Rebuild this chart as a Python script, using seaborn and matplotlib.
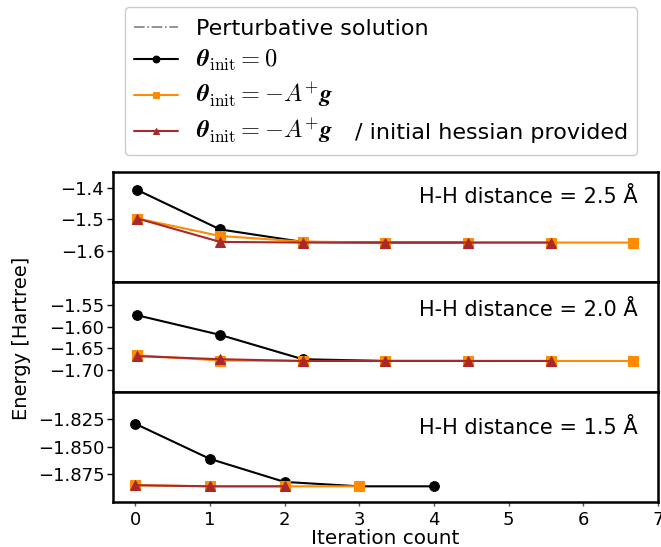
import matplotlib
matplotlib.use("Agg")
import matplotlib.pyplot as plt
import seaborn as sns
import pandas as pd
from matplotlib.offsetbox import TextArea, HPacker

# ---- data ----
distances = ["2.5", "2.0", "1.5"]
# panel 1 (2.5 A)
p1_black = [-1.406, -1.532, -1.572, -1.574, -1.574]
p1_orange = [-1.497, -1.553, -1.571, -1.574, -1.574, -1.574, -1.574]
p1_red = [-1.497, -1.572, -1.574, -1.574, -1.574, -1.574]
# panel 2 (2.0 A)
p2_black = [-1.574, -1.619, -1.675, -1.679, -1.679]
p2_orange = [-1.666, -1.678, -1.679, -1.679, -1.679, -1.679, -1.679]
p2_red = [-1.668, -1.675, -1.679, -1.679, -1.679, -1.679]
# panel 3 (1.5 A)
p3_black = [-1.829, -1.861, -1.882, -1.886, -1.886]
p3_orange = [-1.885, -1.886, -1.886, -1.886]
p3_red = [-1.885, -1.886, -1.886]

ylims = [(-1.70, -1.348), (-1.75, -1.497), (-1.90, -1.80)]
yticks = [[-1.4, -1.5, -1.6], [-1.55, -1.60, -1.65, -1.70], [-1.825, -1.850, -1.875]]
xticks_top = [0, 1, 2, 3, 4, 5, 6]
xticks_bottom = [0, 1, 2, 3, 4, 5, 6, 7]

math_label = r"$\mathbfit{\theta}_{\mathrm{init}} = -A^{+}\mathbfit{g}$"
labels = [
    "Perturbative solution",
    r"$\mathbfit{\theta}_{\mathrm{init}} = 0$",
    math_label,
    math_label,
]
suffix_text = "/ initial hessian provided"

sns.set_style("white")
plt.rcParams["font.family"] = ["DejaVu Sans"]
plt.rcParams["mathtext.fontset"] = "cm"
for k in ["text.color", "axes.labelcolor", "xtick.color", "ytick.color"]:
    plt.rcParams[k] = "black"

BLACK = "black"
ORANGE = "#ff8c00"
RED = "#a8282b"

fig, axes = plt.subplots(3, 1, figsize=(6.61, 5.47), dpi=100)
fig.subplots_adjust(left=0.1705, right=0.9955, bottom=0.0828, top=0.6856, hspace=0)

panels = [(p1_black, p1_orange, p1_red), (p2_black, p2_orange, p2_red), (p3_black, p3_orange, p3_red)]
text_y = [0.77, 0.745, 0.67]

handles = []
for i, (ax, (bk, org, rd)) in enumerate(zip(axes, panels)):
    ax.plot([], [], color="grey", ls="-.", lw=1.2)
    for vals, col, mk, ms in [(bk, BLACK, "o", 7), (org, ORANGE, "s", 7), (rd, RED, "^", 7)]:
        df = pd.DataFrame({"x": list(range(len(vals))), "y": vals})
        sns.lineplot(data=df, x="x", y="y", color=col, marker=mk, markersize=ms,
                     markeredgecolor=col, lw=1.5, ax=ax, estimator=None, sort=False)
    ax.set_ylim(*ylims[i])
    ax.set_yticks(yticks[i])
    ax.set_ylabel("")
    ax.set_xlabel("")
    if i < 2:
        ax.set_xlim(-0.3, 6.3)
        ax.set_xticks(xticks_top)
        ax.set_xticklabels([])
    else:
        ax.set_xlim(-0.3, 7.0)
        ax.set_xticks(xticks_bottom)
    for s in ax.spines.values():
        s.set_linewidth(1.8)
        s.set_color("black")
    ax.tick_params(axis="y", direction="out", length=4, width=1, labelsize=13, pad=2, left=True)
    ax.tick_params(axis="x", direction="out", length=3, width=1, color="#555555",
                   labelsize=13, pad=4, bottom=True)
    ax.text(0.962, text_y[i], f"H-H distance = {distances[i]} Å", transform=ax.transAxes,
            ha="right", va="center", fontsize=15)
    if i == 0:
        handles = ax.get_lines()[:4]

axes[2].set_xlabel("Iteration count", fontsize=14.4, labelpad=0)
fig.text(0.033, 0.382, "Energy [Hartree]", rotation=90, ha="center", va="center", fontsize=14)

TXT = 16.0
MATH = 17.6
leg = fig.legend(handles, labels, loc="upper left", bbox_to_anchor=(0.189, 0.987),
                 borderaxespad=0, prop={"size": TXT}, handlelength=2.0, handletextpad=0.8,
                 markerscale=0.7, labelspacing=0.32, frameon=True, framealpha=1,
                 edgecolor="#cccccc", fancybox=True, borderpad=0.4)
texts = leg.get_texts()
for t in texts[1:]:
    t.set_fontsize(MATH)

# extend legend rows: plain-text suffix on the last row, height strut on the first row
for col in leg._legend_handle_box.get_children():
    for row in col.get_children():
        ch = row.get_children()
        if len(ch) == 2 and isinstance(ch[1], TextArea):
            if ch[1]._text is texts[3]:
                suffix = TextArea(suffix_text, textprops=dict(fontsize=TXT, color="black"))
                hp = HPacker(children=[ch[1], suffix], sep=16, pad=0, align="baseline")
                hp.set_figure(fig)
                suffix.set_figure(fig)
                suffix._text.set_figure(fig)
                ch[1] = hp
            elif ch[1]._text is texts[0]:
                strut = TextArea(r"$\mathbfit{\theta}_{\mathrm{init}}$",
                                 textprops=dict(fontsize=MATH, color="none"))
                hp = HPacker(children=[ch[1], strut], sep=0, pad=0, align="baseline")
                hp.set_figure(fig)
                strut.set_figure(fig)
                strut._text.set_figure(fig)
                ch[1] = hp

fig.savefig("out.png", dpi=100)
